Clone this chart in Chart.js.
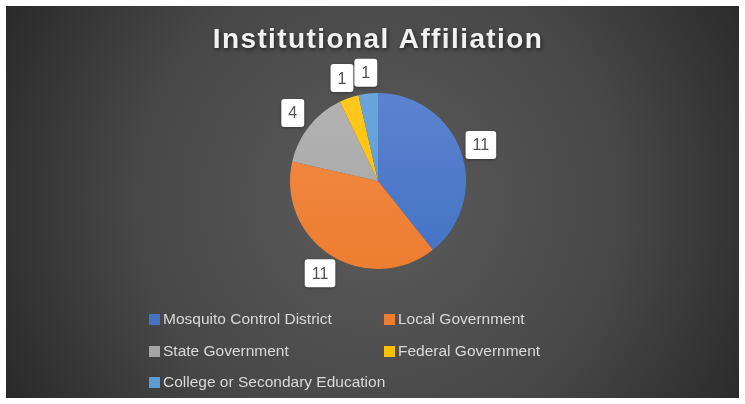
<!DOCTYPE html>
<html>
<head>
<meta charset="utf-8">
<script src="https://cdn.jsdelivr.net/npm/chart.js@4.4.0/dist/chart.umd.min.js"></script>
<style>
  html, body { margin: 0; padding: 0; background: #ffffff; }
  #wrap { width: 745px; height: 404px; position: relative; }
</style>
</head>
<body>
<div id="wrap"><canvas id="pieChart" width="745" height="404"></canvas></div>
<script>
// chart data
const categories = ['Mosquito Control District', 'Local Government', 'State Government', 'Federal Government', 'College or Secondary Education'];
const counts = [11, 11, 4, 1, 1];
const sliceColors = ['#4472C4', '#ED7D31', '#A5A5A5', '#FFC000', '#5B9BD5'];
const sliceLight = ['#5B83D0', '#F28C45', '#B3B3B3', '#FFC81F', '#6AA6DC'];
const chartTitle = 'Institutional Affiliation';

const FONT = '"Liberation Sans", Arial, sans-serif';

// background panel with a radial glow, plus the title
const backdrop = {
    id: 'backdrop',
    beforeDraw(chart) {
        const ctx = chart.ctx;
        ctx.save();
        ctx.fillStyle = '#ffffff';
        ctx.fillRect(0, 0, chart.width, chart.height);
        const g = ctx.createRadialGradient(378, 200, 20, 378, 200, 430);
        g.addColorStop(0, '#5a5a5a');
        g.addColorStop(0.55, '#474747');
        g.addColorStop(1, '#282828');
        ctx.fillStyle = g;
        ctx.fillRect(6, 6, 733, 392);

        ctx.font = 'bold 28px ' + FONT;
        ctx.letterSpacing = '1.4px';
        ctx.textAlign = 'center';
        ctx.textBaseline = 'alphabetic';
        ctx.shadowColor = 'rgba(0,0,0,0.6)';
        ctx.shadowBlur = 4;
        ctx.shadowOffsetX = 1;
        ctx.shadowOffsetY = 2;
        ctx.fillStyle = '#f2f2f2';
        ctx.fillText(chartTitle, 378, 48);
        ctx.restore();
    }
};

// value callouts in white rounded boxes outside each slice
const callouts = {
    id: 'callouts',
    afterDatasetsDraw(chart) {
        const ctx = chart.ctx;
        const meta = chart.getDatasetMeta(0);
        ctx.save();
        ctx.font = '16px ' + FONT;
        ctx.textAlign = 'center';
        ctx.textBaseline = 'middle';
        meta.data.forEach(function (arc, i) {
            const mid = (arc.startAngle + arc.endAngle) / 2;
            const dist = arc.outerRadius + 21;
            const x = arc.x + Math.cos(mid) * dist;
            const y = arc.y + Math.sin(mid) * dist;
            const txt = String(counts[i]);
            const w = ctx.measureText(txt).width + 14;
            const h = 28;
            ctx.shadowColor = 'rgba(0,0,0,0.35)';
            ctx.shadowBlur = 3;
            ctx.shadowOffsetY = 1;
            ctx.fillStyle = '#ffffff';
            ctx.beginPath();
            ctx.roundRect(x - w / 2, y - h / 2, w, h, 3);
            ctx.fill();
            ctx.shadowColor = 'transparent';
            ctx.fillStyle = '#505050';
            ctx.fillText(txt, x, y + 1);
        });
        ctx.restore();
    }
};

// two column legend under the pie
const gridLegend = {
    id: 'gridLegend',
    afterDraw(chart) {
        const ctx = chart.ctx;
        const colX = [149, 384];
        const rowY = [319, 351, 382];
        ctx.save();
        ctx.font = '15.5px ' + FONT;
        ctx.textBaseline = 'middle';
        categories.forEach(function (name, i) {
            const x = colX[i % 2];
            const y = rowY[Math.floor(i / 2)];
            ctx.fillStyle = sliceColors[i];
            ctx.fillRect(x, y - 5, 11, 11);
            ctx.fillStyle = '#d9d9d9';
            ctx.fillText(name, x + 14, y + 1);
        });
        ctx.restore();
    }
};

function sliceFill(context) {
    const chart = context.chart;
    const i = context.dataIndex;
    const area = chart.chartArea;
    if (!area) return sliceColors[i];
    const g = chart.ctx.createLinearGradient(0, area.top, 0, area.bottom);
    g.addColorStop(0, sliceLight[i]);
    g.addColorStop(1, sliceColors[i]);
    return g;
}

const ctx = document.getElementById('pieChart').getContext('2d');
const pieChart = new Chart(ctx, {
    type: 'pie',
    data: {
        labels: categories,
        datasets: [{
            data: counts,
            backgroundColor: sliceFill,
            borderWidth: 0
        }]
    },
    options: {
        responsive: false,
        animation: false,
        layout: {
            padding: { top: 93, bottom: 135, left: 290, right: 279 }
        },
        plugins: {
            legend: { display: false },
            tooltip: { enabled: false }
        }
    },
    plugins: [backdrop, callouts, gridLegend]
});
</script>
</body>
</html>
